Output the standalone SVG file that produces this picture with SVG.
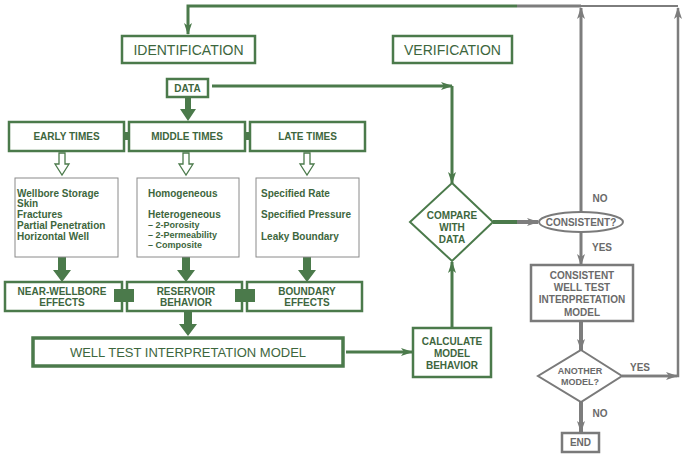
<svg xmlns="http://www.w3.org/2000/svg" width="685" height="454" viewBox="0 0 685 454">
<style>
.gb{fill:#fff;stroke:#4b7a4b;stroke-width:2.5}
.gb3{fill:#fff;stroke:#4b7a4b;stroke-width:3.5}
.tb{fill:#fff;stroke:#8a8a8a;stroke-width:1}
.yb{fill:#fff;stroke:#7a7a7a;stroke-width:2.5}
.gl{fill:none;stroke:#4b7a4b;stroke-width:3}
.yl{fill:none;stroke:#7d7d7d;stroke-width:3}
.fg{fill:#4b7a4b}
.ha{fill:#fff;stroke:#4b7a4b;stroke-width:1.3}
text{font-family:"Liberation Sans",Arial,sans-serif;text-anchor:middle}
.tg{fill:#3d663d}
.ty{fill:#6a6a6a}
.b{font-weight:bold}
.s10{font-size:10px}
.s9{font-size:9px}
.lt{text-anchor:start}
</style>
<defs>
<marker id="ag" viewBox="0 0 12 8" refX="11" refY="4" markerWidth="12" markerHeight="8" markerUnits="userSpaceOnUse" orient="auto"><path d="M0,0 L12,4 L0,8 L3,4 z" fill="#4b7a4b"/></marker>
<marker id="ay" viewBox="0 0 12 8" refX="11" refY="4" markerWidth="12" markerHeight="8" markerUnits="userSpaceOnUse" orient="auto"><path d="M0,0 L12,4 L0,8 L3,4 z" fill="#7d7d7d"/></marker>
</defs>

<g id="connectors">
<path class="gl" d="M517,6 H188 V34" marker-end="url(#ag)"/>
<path class="yl" d="M581,6 H517"/>
<path class="yl" style="stroke-width:2.2" d="M678,6 H581"/>
<path class="yl" d="M581,212 V8" marker-end="url(#ay)"/>
<path class="yl" style="stroke-width:2.5" d="M622,376 H678 V8" marker-end="url(#ay)"/>
<path class="yl" style="stroke-width:2.5" d="M622,376 H677" marker-end="url(#ay)"/>
<path class="gl" d="M212,86 H452" marker-end="url(#ag)"/>
<path class="gl" d="M452,86 V183" marker-end="url(#ag)"/>
<path class="gl" d="M346,352 H412" marker-end="url(#ag)"/>
<path class="gl" d="M452,328 V262" marker-end="url(#ag)"/>
<path class="gl" style="stroke-width:4" d="M493,222 H517"/>
<path class="yl" style="stroke-width:4" d="M517,222 H538" marker-end="url(#ay)"/>
<path class="yl" d="M581,232 V265" marker-end="url(#ay)"/>
<path class="yl" style="stroke-width:4" d="M581,321 V350" marker-end="url(#ay)"/>
<path class="yl" style="stroke-width:4" d="M581,402 V432" marker-end="url(#ay)"/>
<!-- thick arrows -->
<polygon class="fg" points="185,97 191,97 191,109 196,109 188,121 180,109 185,109"/>
<polygon class="fg" points="58,257 66,257 66,270 71,270 62,282 53,270 58,270"/>
<polygon class="fg" points="182,257 190,257 190,270 195,270 186,282 177,270 182,270"/>
<polygon class="fg" points="303,257 311,257 311,270 316,270 307,282 298,270 303,270"/>
<polygon class="fg" points="184,311 192,311 192,324 197,324 188,336 179,324 184,324"/>
<!-- hollow arrows -->
<polygon class="ha" points="59,153 65,153 65,164 69,164 62,175 55,164 59,164"/>
<polygon class="ha" points="183,153 189,153 189,164 193,164 186,175 179,164 183,164"/>
<polygon class="ha" points="304,153 310,153 310,164 314,164 307,175 300,164 304,164"/>
<!-- link blocks -->
<rect class="fg" x="122" y="132" width="9" height="8"/>
<rect class="fg" x="243" y="132" width="9" height="8"/>
</g>

<g id="identification"><rect class="gb" x="122" y="36" width="133" height="27"/><text class="tg" x="188.5" y="54.5" font-size="14">IDENTIFICATION</text></g>
<g id="verification"><rect class="gb" x="393" y="36" width="119" height="27"/><text class="tg" x="452.5" y="54.5" font-size="14">VERIFICATION</text></g>
<g id="data"><rect class="gb" x="167" y="79" width="41" height="18"/><text class="tg b s10" x="187.5" y="91.5">DATA</text></g>

<g id="early-times"><rect class="gb" x="9" y="122" width="115" height="29"/><text class="tg b s10" x="66.5" y="140">EARLY TIMES</text></g>
<g id="middle-times"><rect class="gb" x="129" y="122" width="116" height="29"/><text class="tg b s10" x="187" y="140">MIDDLE TIMES</text></g>
<g id="late-times"><rect class="gb" x="250" y="122" width="115" height="29"/><text class="tg b s10" x="307.5" y="140">LATE TIMES</text></g>

<g id="early-list"><rect class="tb" x="15" y="178" width="103" height="79"/>
<text class="tg b s10 lt" x="17" y="197">Wellbore Storage</text>
<text class="tg b s10 lt" x="17" y="207">Skin</text>
<text class="tg b s10 lt" x="17" y="218">Fractures</text>
<text class="tg b s10 lt" x="17" y="229">Partial Penetration</text>
<text class="tg b s10 lt" x="17" y="240">Horizontal Well</text></g>
<g id="middle-list"><rect class="tb" x="137" y="178" width="102" height="79"/>
<text class="tg b s10 lt" x="148" y="197">Homogeneous</text>
<text class="tg b s10 lt" x="148" y="218">Heterogeneous</text>
<text class="tg b s9 lt" x="148" y="228">– 2-Porosity</text>
<text class="tg b s9 lt" x="148" y="238">– 2-Permeability</text>
<text class="tg b s9 lt" x="148" y="248">– Composite</text></g>
<g id="late-list"><rect class="tb" x="256" y="178" width="103" height="79"/>
<text class="tg b s10 lt" x="261" y="197">Specified Rate</text>
<text class="tg b s10 lt" x="261" y="218">Specified Pressure</text>
<text class="tg b s10 lt" x="261" y="240">Leaky Boundary</text></g>

<g id="near-wellbore"><rect class="gb" x="5" y="282" width="117" height="29"/><text class="tg b s10" x="62" y="295">NEAR-WELLBORE</text><text class="tg b s10" x="62" y="306">EFFECTS</text></g>
<g id="reservoir"><rect class="gb" x="127" y="282" width="115" height="29"/><text class="tg b s10" x="186" y="295">RESERVOIR</text><text class="tg b s10" x="186" y="306">BEHAVIOR</text></g>
<g id="boundary"><rect class="gb" x="247" y="282" width="115" height="29"/><text class="tg b s10" x="307" y="295">BOUNDARY</text><text class="tg b s10" x="307" y="306">EFFECTS</text></g>
<g id="effect-links"><rect class="fg" x="114" y="289" width="20" height="13"/><rect class="fg" x="235" y="289" width="20" height="13"/></g>

<g id="wtim"><rect class="gb3" x="33" y="338" width="310" height="28"/><text class="tg" x="188" y="357" font-size="13">WELL TEST INTERPRETATION MODEL</text></g>
<g id="calculate"><rect class="gb" x="413" y="328" width="78" height="49"/><text class="tg b s10" x="452" y="345">CALCULATE</text><text class="tg b s10" x="452" y="357">MODEL</text><text class="tg b s10" x="452" y="369">BEHAVIOR</text></g>
<g id="compare"><polygon class="gb" style="stroke-width:2" points="452,183 493,222 452,261 410,222"/><text class="tg b s10" x="452" y="219">COMPARE</text><text class="tg b s10" x="452" y="231">WITH</text><text class="tg b s10" x="452" y="243">DATA</text></g>
<g id="consistent-q"><ellipse class="yb" style="stroke-width:2" cx="581" cy="222" rx="42" ry="10"/><text class="ty b s10" x="581" y="226">CONSISTENT?</text></g>
<g id="consistent-model"><rect class="yb" x="531" y="265" width="102" height="56"/><text class="ty b s10" x="582" y="279">CONSISTENT</text><text class="ty b s10" x="582" y="291">WELL TEST</text><text class="ty b s10" x="582" y="303">INTERPRETATION</text><text class="ty b s10" x="582" y="316">MODEL</text></g>
<g id="another"><polygon class="yb" style="stroke-width:2" points="581,350 622,376 581,402 538,376"/><text class="ty b" font-size="9" x="580" y="374">ANOTHER</text><text class="ty b" font-size="9" x="580" y="385">MODEL?</text></g>
<g id="end"><rect class="yb" x="562" y="433" width="37" height="19"/><text class="ty b s10" x="580.5" y="446">END</text></g>
<g id="labels">
<text class="ty b s10" x="600" y="202">NO</text>
<text class="ty b s10" x="602" y="251">YES</text>
<text class="ty b s10" x="640" y="371">YES</text>
<text class="ty b s10" x="600" y="417">NO</text>
</g>
</svg>
